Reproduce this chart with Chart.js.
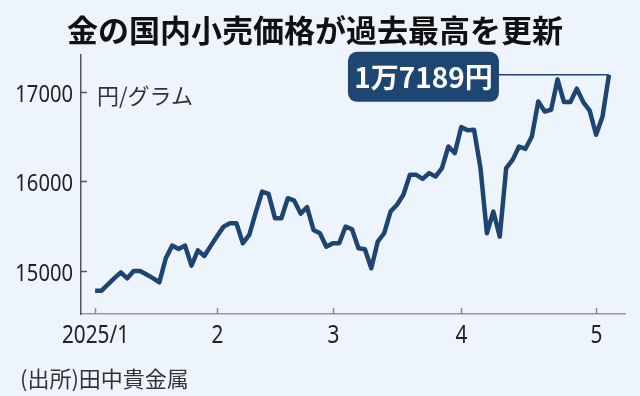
<!DOCTYPE html>
<html lang="ja">
<head>
<meta charset="utf-8">
<script src="https://cdn.jsdelivr.net/npm/chart.js@4.4.1/dist/chart.umd.min.js"></script>
<style>
html, body { margin: 0; padding: 0; background: #eef4fb; }
#wrap { position: relative; width: 640px; height: 396px; overflow: hidden; font-family: "Noto Sans CJK JP", sans-serif; }
#title { position: absolute; left: 0; top: 9px; width: 630px; text-align: center; font-size: 31px; font-weight: bold; color: #111; line-height: 40px; }
#unit { position: absolute; left: 97px; top: 80px; font-size: 22px; color: #333; line-height: 28px; }
#source { position: absolute; left: 20px; top: 363px; font-size: 22px; color: #333; line-height: 28px; }
canvas { position: absolute; left: 0; top: 0; }
</style>
</head>
<body>
<div id="wrap">
  <canvas id="chart" width="640" height="396"></canvas>
  <div id="title">金の国内小売価格が過去最高を更新</div>
  <div id="unit">円/グラム</div>
  <div id="source">(出所)田中貴金属</div>
</div>
<script>
// daily retail price (yen per gram), one value per business day
const prices = [
  14780, 14780, 14850, 14920, 14985, 14918, 15000, 15000, 14960, 14920,
  14874, 15142, 15283, 15246, 15283, 15060, 15230, 15168, 15280, 15390,
  15495, 15533, 15533, 15310, 15402, 15650, 15886, 15860, 15589, 15589,
  15812, 15785, 15640, 15712, 15458, 15421, 15271, 15310, 15310, 15495,
  15466, 15254, 15243, 15030, 15327, 15421, 15663, 15740, 15850, 16073,
  16073, 16028, 16092, 16054, 16147, 16389, 16315, 16605, 16570, 16575,
  16147, 15421, 15663, 15383, 16147, 16240, 16389, 16363, 16501, 16892,
  16780, 16799, 17138, 16885, 16885, 17034, 16885, 16790, 16520, 16724,
  17189
]

// index of the first business day of each month, and its label
const monthStarts = [0, 19, 37, 57, 78]
const monthLabels = ['2025/1', '2', '3', '4', '5']
const yTicks = [15000, 16000, 17000]

const navy = '#1e4572'

//condensed text: no narrow font installed, so squeeze Noto Sans sideways
function narrowText(ctx, text, x, y, size, squeeze, align) {
  ctx.save()
  ctx.font = size + 'px "Noto Sans", sans-serif'
  ctx.textAlign = align
  ctx.textBaseline = 'alphabetic'
  ctx.translate(x, y)
  ctx.scale(squeeze, 1)
  ctx.fillText(text, 0, 0)
  ctx.restore()
}

//tick marks pointing into the plot, plus the tick labels
const axisDecor = {
  id: 'axisDecor',
  afterDraw(chart) {
    const ctx = chart.ctx
    const xs = chart.scales.x
    const ys = chart.scales.y
    ctx.save()
    ctx.lineWidth = 1.5
    ctx.strokeStyle = '#555'
    ctx.fillStyle = '#222'
    ys.ticks.forEach(t => {
      let py = Math.round(ys.getPixelForValue(t.value)) + 0.5
      ctx.beginPath()
      ctx.moveTo(xs.left, py)
      ctx.lineTo(xs.left + 6, py)
      ctx.stroke()
      narrowText(ctx, String(t.value), xs.left - 8, py + 9, 24, 0.84, 'right')
    })
    ctx.strokeStyle = '#888'
    xs.ticks.forEach(t => {
      let px = Math.round(xs.getPixelForValue(t.value)) + 0.5
      ctx.beginPath()
      ctx.moveTo(px, ys.bottom)
      ctx.lineTo(px, ys.bottom - 6)
      ctx.stroke()
      let label = monthLabels[monthStarts.indexOf(t.value)]
      narrowText(ctx, label, px, ys.bottom + 29, 26, 0.8, 'center')
    })
    ctx.restore()
  }
}

//label box for the latest value
const lastLabel = {
  id: 'lastLabel',
  afterDatasetsDraw(chart) {
    const meta = chart.getDatasetMeta(0)
    const pt = meta.data[meta.data.length - 1]
    const last = prices[prices.length - 1]
    const text = Math.floor(last / 10000) + '万' + (last % 10000) + '円'
    const ctx = chart.ctx
    const bw = 151, bh = 50, gap = 110
    const bx = pt.x - gap - bw
    const by = pt.y - 23
    ctx.save()
    ctx.strokeStyle = navy
    ctx.lineWidth = 1.5
    ctx.beginPath()
    ctx.moveTo(bx + bw, pt.y)
    ctx.lineTo(pt.x, pt.y)
    ctx.stroke()
    ctx.fillStyle = '#1d4673'
    ctx.beginPath()
    ctx.roundRect(bx, by, bw, bh, 9)
    ctx.fill()
    ctx.fillStyle = '#fff'
    ctx.font = 'bold 28px "Noto Sans CJK JP", sans-serif'
    ctx.textAlign = 'center'
    ctx.textBaseline = 'middle'
    ctx.fillText(text, bx + bw / 2, by + bh / 2 + 1)
    ctx.restore()
  }
}

const ctx = document.getElementById('chart').getContext('2d')
const chart = new Chart(ctx, {
  type: 'line',
  data: {
    datasets: [{
      data: prices.map((v, i) => ({ x: i, y: v })),
      borderColor: navy,
      borderWidth: 4.5,
      borderJoinStyle: 'round',
      pointRadius: 0,
      tension: 0,
      fill: false
    }]
  },
  options: {
    responsive: false,
    animation: false,
    devicePixelRatio: 1,
    layout: { padding: { top: 55, right: 15, bottom: 42, left: 0 } },
    plugins: {
      legend: { display: false },
      tooltip: { enabled: false }
    },
    scales: {
      x: {
        type: 'linear',
        min: -2.2,
        max: 82.5,
        afterBuildTicks: scale => { scale.ticks = monthStarts.map(v => ({ value: v })) },
        afterFit: scale => { scale.height = 40 },
        grid: { display: false },
        border: { display: true, color: '#999', width: 1.5 },
        ticks: { display: false }
      },
      y: {
        min: 14520,
        max: 17410,
        afterBuildTicks: scale => { scale.ticks = yTicks.map(v => ({ value: v })) },
        afterFit: scale => { scale.width = 81 },
        grid: { display: false },
        border: { display: true, color: '#555', width: 1.5 },
        ticks: { display: false }
      }
    }
  },
  plugins: [axisDecor, lastLabel]
})
</script>
</body>
</html>
